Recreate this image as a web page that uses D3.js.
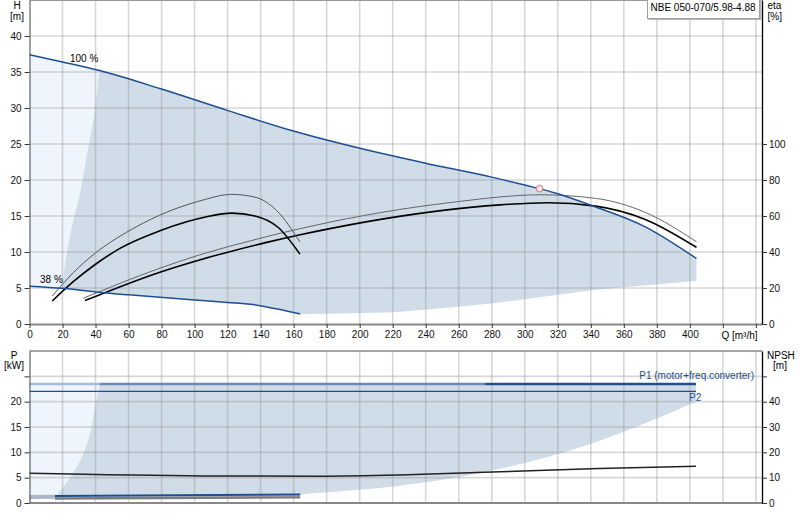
<!DOCTYPE html>
<html>
<head>
<meta charset="utf-8">
<script src="https://cdn.jsdelivr.net/npm/d3@7"></script>
<style>
  body { margin: 0; background: #fff; }
  svg { display: block; font-family: Arial, "Liberation Sans", sans-serif; font-size: 10px; }
</style>
</head>
<body>
<svg id="chart" width="800" height="520"></svg>
<script>
////////////////////// DATA //////////////////////

// ticks
const qTicks = [0, 20, 40, 60, 80, 100, 120, 140, 160, 180, 200, 220, 240, 260, 280, 300, 320, 340, 360, 380, 400, 420, 440];
const qLabels = [0, 20, 40, 60, 80, 100, 120, 140, 160, 180, 200, 220, 240, 260, 280, 300, 320, 340, 360, 380, 400];
const hTicks = [0, 5, 10, 15, 20, 25, 30, 35, 40];
const etaTicks = [0, 20, 40, 60, 80, 100];
const pTicks = [0, 5, 10, 15, 20, 25];
const pLabels = [0, 5, 10, 15, 20];
const npshTicks = [0, 10, 20, 30, 40, 50];
const npshLabels = [0, 10, 20, 30, 40];

// H curve, 100 % speed
const q100 = [0, 20, 42.5, 79, 119.4, 159.8, 200.2, 240.6, 280, 300, 320, 340, 373, 404];
const h100 = [37.4, 36.4, 35.2, 32.7, 29.7, 26.8, 24.4, 22.3, 20.4, 19.3, 18.1, 16.5, 13.5, 9.1];

// H curve, 38 % speed
const q38 = [0, 20, 40, 60, 100, 120, 134, 151, 164];
const h38 = [5.25, 4.95, 4.45, 4.05, 3.35, 3.0, 2.75, 2.05, 1.38];

// min flow edge of the range (H)
const qMinH = [20, 20.5, 22, 25.6, 30.6, 34.2, 38.6, 40.3, 41.7, 42.5];
const hMinH = [4.95, 6.5, 9, 13.5, 18.2, 22.8, 28.3, 31.1, 33.9, 35.2];

// lower edge of the range (H)
const qLowH = [164, 182, 220.4, 250, 281, 341.5, 375.8, 404];
const hLowH = [1.38, 1.42, 1.62, 2.2, 2.87, 4.72, 5.42, 5.97];

// eta curves, 100 % speed
const qEtaA = [32.6, 79, 103, 123, 143, 164, 182, 224, 267, 285, 309, 343, 373, 404];
const etaA = [14.3, 31.0, 38.4, 43.6, 48.4, 53.0, 56.6, 63.6, 68.8, 70.6, 71.8, 69.8, 62, 45.7];
const qEtaB = [33.6, 79, 103, 123, 143, 164, 182, 224, 267, 285, 314, 343, 373, 404];
const etaB = [13.0, 28.8, 35.6, 40.6, 45.2, 49.6, 53.0, 59.8, 64.8, 66.2, 67.4, 65.5, 58.1, 42.6];

// eta curves, 38 % speed
const qEtaC = [13.8, 26.5, 40, 58.9, 79, 103.3, 122.5, 136.6, 149.7, 163.8];
const etaC = [15.5, 28.5, 39.5, 51.0, 60.5, 68.4, 72, 70.5, 63, 45.6];
const qEtaD = [13.8, 26.5, 40, 54.8, 79, 95.2, 107.3, 122.5, 136.6, 150.7, 163.8];
const etaD = [12.8, 23.5, 33.2, 42, 51.8, 56.8, 59.6, 61.6, 60, 53.6, 38.8];

// duty point
const dutyQ = 309;
const dutyH = 18.8;

// power panel
const qMinP = [15.5, 16.5, 20.5, 28.6, 35.6, 39.7, 42.7];
const pMinP = [1.0, 1.5, 3.2, 7.1, 12.4, 19.0, 23.5];
const qLowP = [164, 176, 224, 280, 340, 380, 403.7];
const pLowP = [1.7, 2.0, 3.4, 6.4, 11.7, 16.7, 20.0];
const pTop = 23.5;
const qP1 = [0, 42.7, 276, 403.7];
const p1 = [23.5, 23.5, 23.5, 23.5];
const qP2 = [0, 403.7];
const p2 = [22.05, 22.05];
const qNpsh = [0, 105, 176, 224, 285, 345, 403.7];
const npsh = [11.7, 10.7, 10.6, 11.06, 12.3, 13.6, 14.5];
const qP1Low = [15.4, 164];
const p1Low = [1.4, 1.66];
const qP2Low = [15.4, 164];
const p2Low = [0.9, 1.12];
const qLowStub = [0, 15.4];
const pLowStub = [1.2, 1.25];

const pumpName = "NBE 050-070/5.98-4.88";

////////////////////// SCALES //////////////////////

const svg = d3.select("#chart");

const x = d3.scaleLinear().domain([0, 443.7]).range([29.5, 762]);
const yH = d3.scaleLinear().domain([0, 45]).range([324, 0]);
const yEta = d3.scaleLinear().domain([0, 180]).range([324, 0]);
const yP = d3.scaleLinear().domain([0, 30]).range([503, 351]);
const yN = d3.scaleLinear().domain([0, 60]).range([503, 351]);

const darkBlue = "#1c4f8f";

function pts(qs, vs, ys) {
    return qs.map((q, i) => [x(q), ys(vs[i])]);
}
function seg(points, curve) {
    return d3.line().curve(curve)(points);
}
// glue several path pieces into one closed shape
function shape(...parts) {
    return parts.map((p, i) => (i ? "L" + p.slice(1) : p)).join("") + "Z";
}
function drawLine(points, color, width, curve) {
    svg.append("path")
        .attr("d", seg(points, curve || d3.curveMonotoneX))
        .attr("fill", "none")
        .attr("stroke", color)
        .attr("stroke-width", width)
        .attr("stroke-linejoin", "round");
}

////////////////////// TOP PANEL FILLS //////////////////////

const top100 = pts(q100, h100, yH);
const top38 = pts(q38, h38, yH);
const minEdge = pts(qMinH, hMinH, yH);
const lowEdge = pts(qLowH, hLowH, yH);

svg.append("path")
    .attr("d", shape(
        seg(top100.slice(0, 3), d3.curveMonotoneX),
        seg(minEdge.slice().reverse(), d3.curveMonotoneY),
        seg(top38.slice(0, 2).reverse(), d3.curveLinear)))
    .attr("fill", "#eef5fc");

svg.append("path")
    .attr("d", shape(
        seg(minEdge, d3.curveMonotoneY),
        seg(top100.slice(2), d3.curveMonotoneX),
        seg(lowEdge.slice().reverse(), d3.curveLinear),
        seg(top38.slice(1).reverse(), d3.curveLinear)))
    .attr("fill", "#d0dce8");

////////////////////// BOTTOM PANEL FILLS //////////////////////

const minEdgeP = pts(qMinP, pMinP, yP);
const lowEdgeP = pts(qLowP, pLowP, yP);

svg.append("path")
    .attr("d", shape(
        seg([[x(0), yP(pTop)], [x(42.7), yP(pTop)]], d3.curveLinear),
        seg(minEdgeP.slice().reverse(), d3.curveMonotoneY),
        seg([[x(15.5), yP(1.0)], [x(0), yP(1.0)]], d3.curveLinear)))
    .attr("fill", "#eef5fc");

svg.append("path")
    .attr("d", shape(
        seg(minEdgeP, d3.curveMonotoneY),
        seg([[x(42.7), yP(pTop)], [x(403.7), yP(pTop)]], d3.curveLinear),
        seg(lowEdgeP.slice().reverse(), d3.curveMonotoneX),
        seg([[x(164), yP(1.0)], [x(15.5), yP(1.0)]], d3.curveLinear)))
    .attr("fill", "#d0dce8");

////////////////////// GRID //////////////////////

const gridColor = "rgba(150,150,150,0.38)";
const grid = svg.append("g").attr("stroke", gridColor).attr("stroke-width", 1.6);

qTicks.filter(d => d > 0).forEach(d => {
    grid.append("line").attr("x1", x(d)).attr("x2", x(d)).attr("y1", yH(45)).attr("y2", yH(0));
    grid.append("line").attr("x1", x(d)).attr("x2", x(d)).attr("y1", yP(30)).attr("y2", yP(0));
});
hTicks.filter(d => d > 0).forEach(d => {
    grid.append("line").attr("x1", x(0)).attr("x2", x(443.7)).attr("y1", yH(d)).attr("y2", yH(d));
});
pTicks.filter(d => d > 0).forEach(d => {
    grid.append("line").attr("x1", x(0)).attr("x2", x(443.7)).attr("y1", yP(d)).attr("y2", yP(d));
});

////////////////////// TOP PANEL CURVES //////////////////////

drawLine(pts(qEtaA, etaA, yEta), "#666", 1);
drawLine(pts(qEtaB, etaB, yEta), "#000", 1.6);
drawLine(pts(qEtaC, etaC, yEta), "#555", 1);
drawLine(pts(qEtaD, etaD, yEta), "#000", 1.6);
drawLine(top100, darkBlue, 1.5);
drawLine(top38, darkBlue, 1.5);

svg.append("circle")
    .attr("cx", x(dutyQ))
    .attr("cy", yH(dutyH))
    .attr("r", 3.3)
    .attr("fill", "#fdecec")
    .attr("stroke", "#e46a6a")
    .attr("stroke-width", 1);

svg.append("text").attr("x", 70).attr("y", 62).text("100 %");
svg.append("text").attr("x", 40).attr("y", 283).text("38 %");

////////////////////// BOTTOM PANEL CURVES //////////////////////

const p1Colors = ["#a9bad2", "#6f87ad", "#21508d"];
for (let i = 0; i < qP1.length - 1; i++) {
    drawLine(pts(qP1.slice(i, i + 2), p1.slice(i, i + 2), yP), p1Colors[i], 2.6, d3.curveLinear);
}
drawLine(pts(qP2, p2, yP), darkBlue, 1.2, d3.curveLinear);
drawLine(pts(qNpsh, npsh, yN), "#222", 1.5);
drawLine(pts(qLowStub, pLowStub, yP), "#aab5c5", 4, d3.curveLinear);
drawLine(pts(qP2Low, p2Low, yP), "#7c7c7c", 2.4, d3.curveLinear);
drawLine(pts(qP1Low, p1Low, yP), darkBlue, 2, d3.curveLinear);

svg.append("text")
    .attr("x", 754).attr("y", 379)
    .attr("text-anchor", "end")
    .attr("fill", darkBlue)
    .text("P1 (motor+freq.converter)");
svg.append("text")
    .attr("x", 689).attr("y", 401)
    .attr("fill", darkBlue)
    .text("P2");

////////////////////// AXES //////////////////////

function styleAxis(g, lineColor, lineWidth) {
    g.attr("font-family", null).attr("font-size", null);
    g.select(".domain").attr("stroke", lineColor).attr("stroke-width", lineWidth);
    g.selectAll(".tick line").attr("stroke", "#333");
    g.selectAll(".tick text").attr("fill", "#111");
}

// top border lines
svg.append("line").attr("x1", x(0)).attr("x2", x(443.7)).attr("y1", 0.5).attr("y2", 0.5)
    .attr("stroke", "#999").attr("stroke-width", 1.2);
svg.append("line").attr("x1", x(0)).attr("x2", x(443.7)).attr("y1", yP(30)).attr("y2", yP(30))
    .attr("stroke", "#888").attr("stroke-width", 1.4);

svg.append("g")
    .attr("transform", `translate(0,${yH(0)})`)
    .call(d3.axisBottom(x).tickValues(qTicks)
        .tickFormat(d => (qLabels.includes(d) ? d : ""))
        .tickSize(4).tickSizeOuter(0).tickPadding(3))
    .call(g => styleAxis(g, "#888", 2));

svg.append("g")
    .attr("transform", `translate(${x(0)},0)`)
    .call(d3.axisLeft(yH).tickValues(hTicks).tickSize(5).tickSizeOuter(0).tickPadding(3))
    .call(g => styleAxis(g, "#444", 1));

svg.append("g")
    .attr("transform", `translate(${x(443.7)},0)`)
    .call(d3.axisRight(yEta).tickValues(etaTicks).tickSize(5).tickSizeOuter(0).tickPadding(2))
    .call(g => styleAxis(g, "#000", 1.3));

svg.append("line").attr("x1", x(0)).attr("x2", x(443.7)).attr("y1", yP(0)).attr("y2", yP(0))
    .attr("stroke", "#888").attr("stroke-width", 2);

svg.append("g")
    .attr("transform", `translate(${x(0)},0)`)
    .call(d3.axisLeft(yP).tickValues(pTicks)
        .tickFormat(d => (pLabels.includes(d) ? d : ""))
        .tickSize(5).tickSizeOuter(0).tickPadding(3))
    .call(g => styleAxis(g, "#444", 1));

svg.append("g")
    .attr("transform", `translate(${x(443.7)},0)`)
    .call(d3.axisRight(yN).tickValues(npshTicks)
        .tickFormat(d => (npshLabels.includes(d) ? d : ""))
        .tickSize(5).tickSizeOuter(0).tickPadding(2))
    .call(g => styleAxis(g, "#000", 1.3));

////////////////////// AXIS TITLES //////////////////////

svg.append("text").attr("x", 17).attr("y", 9).attr("text-anchor", "middle").text("H");
svg.append("text").attr("x", 17).attr("y", 20).attr("text-anchor", "middle").text("[m]");
svg.append("text").attr("x", 767.5).attr("y", 9).text("eta");
svg.append("text").attr("x", 767.5).attr("y", 20).text("[%]");
svg.append("text").attr("x", 739.5).attr("y", 338.5).attr("text-anchor", "middle").text("Q [m³/h]");
svg.append("text").attr("x", 14).attr("y", 358.5).attr("text-anchor", "middle").text("P");
svg.append("text").attr("x", 14).attr("y", 369).attr("text-anchor", "middle").text("[kW]");
svg.append("text").attr("x", 767).attr("y", 358.5).text("NPSH");
svg.append("text").attr("x", 780).attr("y", 369).attr("text-anchor", "middle").text("[m]");

////////////////////// NAME BOX //////////////////////

svg.append("rect")
    .attr("x", 648.5).attr("y", 0).attr("width", 113).attr("height", 20)
    .attr("fill", "#b5b5b5");
svg.append("rect")
    .attr("x", 647.5).attr("y", -1).attr("width", 112).attr("height", 19.5)
    .attr("fill", "#fff").attr("stroke", "#a0a0a0").attr("stroke-width", 1);
svg.append("text").attr("x", 650.5).attr("y", 10.8).text(pumpName);
</script>
</body>
</html>
